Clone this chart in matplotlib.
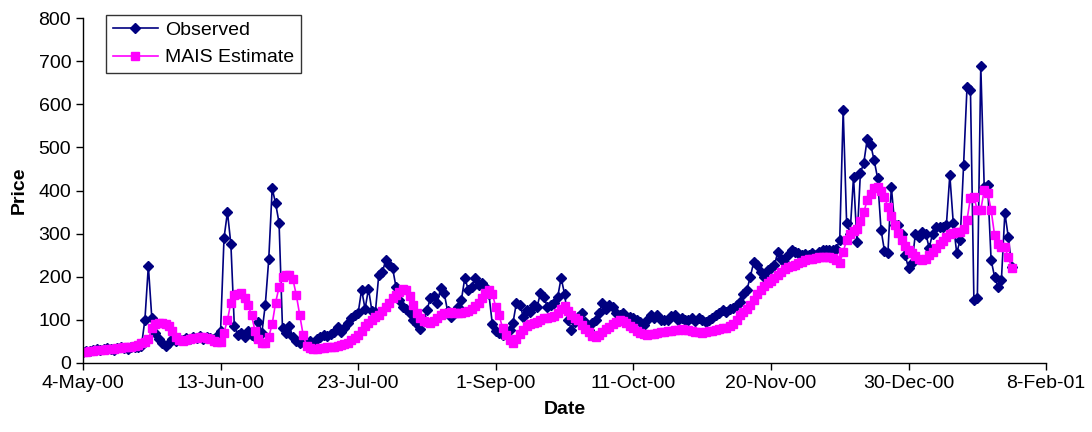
import matplotlib
matplotlib.use("Agg")
import matplotlib.pyplot as plt
import pandas as pd

plt.rcParams['font.family'] = ['Liberation Sans', 'DejaVu Sans']

start_date = "2000-05-04"

observed = [
    25, 27, 28, 30, 32, 30, 33, 35, 33, 31,
    34, 36, 35, 33, 37, 38, 36, 40, 100, 225,
    105, 70, 55, 45, 40, 45, 55, 50, 55, 52,
    58, 55, 60, 57, 62, 55, 60, 58, 55, 62,
    75, 290, 350, 275, 85, 65, 70, 60, 75, 65,
    60, 95, 70, 135, 240, 405, 370, 325, 80, 70,
    85, 60, 50, 45, 55, 40, 50, 45, 55, 60,
    65, 62, 68, 72, 84, 72, 80, 93, 105, 110,
    116, 170, 125, 172, 120, 118, 205, 210, 238, 228,
    220, 176, 145, 130, 125, 115, 100, 90, 79, 100,
    123, 150, 155, 140, 174, 162, 120, 107, 115, 130,
    146, 197, 170, 176, 197, 181, 185, 176, 160, 90,
    75, 70, 65, 70, 77, 93, 139, 135, 107, 123,
    118, 135, 130, 162, 153, 130, 135, 140, 153, 197,
    160, 100, 77, 95, 107, 116, 95, 77, 93, 100,
    115, 139, 125, 135, 130, 116, 110, 116, 107, 107,
    105, 100, 95, 88, 100, 111, 105, 111, 100, 100,
    100, 108, 111, 100, 104, 100, 100, 104, 98, 104,
    100, 95, 100, 105, 110, 115, 123, 118, 125, 128,
    135, 142, 160, 169, 200, 234, 227, 210, 200, 216,
    220, 227, 257, 240, 232, 250, 262, 258, 255, 250,
    252, 250, 255, 250, 258, 262, 262, 262, 262, 265,
    285, 587, 325, 300, 432, 281, 440, 465, 520, 506,
    470, 429, 309, 260, 255, 408, 320, 320, 300, 250,
    220, 232, 300, 292, 304, 300, 267, 300, 316, 316,
    316, 320, 436, 325, 255, 285, 459, 640, 633, 145,
    150, 690, 408, 413, 239, 200, 176, 193, 348, 292,
    223,
]

mais_estimate = [
    25, 26, 27, 28, 29, 30, 31, 32, 32, 33,
    34, 35, 36, 37, 38, 40, 42, 45, 48, 55,
    80, 90, 92, 92, 90, 85, 75, 60, 52, 50,
    52, 55, 57, 58, 60, 60, 58, 55, 50, 48,
    48, 70, 100, 140, 158, 160, 162, 150, 135, 110,
    75, 55, 46, 46, 60, 90, 140, 176, 200, 205,
    203, 195, 158, 111, 65, 40, 35, 33, 33, 34,
    35, 36, 37, 38, 40, 42, 44, 46, 52, 58,
    65, 75, 85, 93, 100, 107, 112, 120, 130, 140,
    150, 158, 165, 172, 170, 155, 135, 116, 105, 98,
    95, 93, 97, 105, 112, 116, 116, 117, 116, 116,
    116, 118, 120, 125, 132, 140, 150, 162, 169, 160,
    130, 110, 80, 65, 52, 46, 55, 68, 77, 85,
    90, 93, 95, 100, 103, 105, 107, 108, 115, 125,
    132, 120, 112, 105, 100, 88, 78, 72, 62, 60,
    65, 72, 78, 84, 90, 96, 100, 98, 92, 85,
    81, 75, 70, 66, 65, 66, 68, 70, 72, 72,
    74, 75, 76, 77, 78, 77, 76, 74, 72, 71,
    70, 72, 73, 75, 76, 78, 80, 82, 85, 90,
    100, 110, 118, 125, 135, 145, 160, 170, 178, 185,
    190, 198, 205, 212, 218, 223, 225, 228, 232, 235,
    238, 240, 242, 244, 245, 246, 246, 245, 243, 238,
    232, 258, 285, 300, 305, 310, 330, 350, 378, 392,
    405, 408, 400, 385, 362, 340, 320, 302, 285, 272,
    262, 255, 248, 242, 239, 242, 250, 258, 267, 275,
    282, 292, 300, 302, 304, 304, 310, 332, 383, 385,
    355, 355, 401, 395, 355, 297, 275, 269, 269, 245,
    220,
]

tick_dates = ["2000-05-04", "2000-06-13", "2000-07-23", "2000-09-01",
              "2000-10-11", "2000-11-20", "2000-12-30", "2001-02-08"]
tick_labels = ["4-May-00", "13-Jun-00", "23-Jul-00", "1-Sep-00",
               "11-Oct-00", "20-Nov-00", "30-Dec-00", "8-Feb-01"]
y_ticks = [0, 100, 200, 300, 400, 500, 600, 700, 800]

dates = pd.date_range(start_date, periods=len(observed), freq="D")
dates_m = pd.date_range(start_date, periods=len(mais_estimate), freq="D")

fig = plt.figure(figsize=(10.92, 4.32), dpi=100)
ax = fig.add_axes([0.076, 0.160, 0.882, 0.798])

ax.plot(dates, observed, color="#000080", marker="D", markersize=5.2,
        linewidth=1.2, label="Observed")
ax.plot(dates_m, mais_estimate, color="#FF00FF", marker="s", markersize=5.2,
        linewidth=1.2, label="MAIS Estimate")

td = pd.to_datetime(tick_dates)
ax.set_xticks(td)
ax.set_xticklabels(tick_labels)
ax.set_xlim(td[0], td[-1])
ax.set_ylim(0, 800)
ax.set_yticks(y_ticks)

for s in ["top", "right"]:
    ax.spines[s].set_visible(False)
for s in ["left", "bottom"]:
    ax.spines[s].set_linewidth(1.0)
    ax.spines[s].set_color("black")

ax.tick_params(axis="both", direction="out", length=5, width=1,
               labelsize=14, colors="black")
ax.tick_params(axis="x", pad=4)

ax.set_xlabel("Date", fontsize=14, fontweight="bold", labelpad=6)
ax.set_ylabel("Price", fontsize=14, fontweight="bold", labelpad=8)

leg = ax.legend(loc="upper left", bbox_to_anchor=(0.024, 1.01), fontsize=14,
                frameon=True, fancybox=False, edgecolor="black",
                borderpad=0.35, handlelength=2.3, handletextpad=0.4,
                labelspacing=0.5, borderaxespad=0.0)
leg.get_frame().set_linewidth(1.0)

fig.savefig("out.png", dpi=100)
